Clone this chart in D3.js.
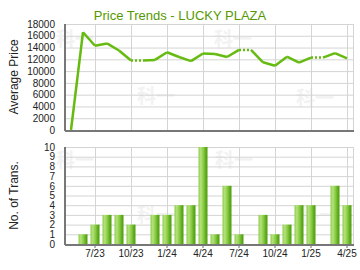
<!DOCTYPE html>
<html>
<head>
<meta charset="utf-8">
<script src="https://cdn.jsdelivr.net/npm/d3@7"></script>
<style>
  body { margin: 0; background: #fff; }
  svg { display: block; font-family: "Liberation Sans", Arial, sans-serif; }
  .tick text { fill: #222; font-size: 10px; }
</style>
</head>
<body>
<div id="vis"></div>
<script>
// Data
const MONTHS = ["5/23","6/23","7/23","8/23","9/23","10/23","11/23","12/23",
                "1/24","2/24","3/24","4/24","5/24","6/24","7/24","8/24",
                "9/24","10/24","11/24","12/24","1/25","2/25","3/25","4/25"];
const AVG_PRICE = [0,16600,14300,14700,13500,11800,null,11900,
                   13200,12400,11700,13000,12900,12400,13600,null,
                   11500,10900,12450,11450,12300,null,13050,12150];
const TRANS = [0,1,2,3,3,2,0,3,3,4,4,10,1,6,1,0,3,1,2,4,4,0,6,4];
const X_LABELS = ["7/23","10/23","1/24","4/24","7/24","10/24","1/25","4/25"];
const PRICE_TICKS = [0,2000,4000,6000,8000,10000,12000,14000,16000,18000];
const TRANS_TICKS = [0,1,2,3,4,5,6,7,8,9,10];

const WIDTH = 360, HEIGHT = 270;
const LEFT = 65, RIGHT = 353;
const TOP1 = 24, BOT1 = 130;
const TOP2 = 147, BOT2 = 244;
const GREEN = "#66bb11";

const SVG = d3.select("#vis").append("svg")
              .attr("width", WIDTH).attr("height", HEIGHT);

// gradient for the bars
const grad = SVG.append("defs").append("linearGradient")
                .attr("id", "barGrad").attr("x1", "0").attr("x2", "1")
                .attr("y1", "0").attr("y2", "0");
[["0%", "#8ccc4c"], ["25%", "#b4e27c"], ["55%", "#88cc44"], ["80%", "#5fae1c"], ["100%", "#4e9a10"]]
  .forEach(s => grad.append("stop").attr("offset", s[0]).attr("stop-color", s[1]));

// watermarks
[[56, 46], [137, 103], [214, 46], [296, 105], [56, 167], [137, 222], [215, 167], [300, 222]]
  .forEach(p => SVG.append("text").attr("x", p[0]).attr("y", p[1])
    .attr("font-size", 19).attr("font-weight", "bold").attr("fill", "#f2f2f2")
    .attr("font-family", "Noto Sans CJK SC").text("科一"));

// scales
const X_SCALE = d3.scaleBand().domain(MONTHS).range([LEFT, RIGHT]);
const xc = (m) => X_SCALE(m) + X_SCALE.bandwidth() / 2;
const Y1 = d3.scaleLinear().domain([0, 18000]).range([BOT1, TOP1]);
const Y2 = d3.scaleLinear().domain([0, 10]).range([BOT2, TOP2]);

// grids
function grid(yScale, ticks, top, bot) {
  SVG.append("g").selectAll("line").data(ticks).enter().append("line")
     .attr("x1", LEFT).attr("x2", RIGHT)
     .attr("y1", d => yScale(d) + 0.5).attr("y2", d => yScale(d) + 0.5)
     .attr("stroke", "#d4d4d4");
  SVG.append("g").selectAll("line").data(X_LABELS).enter().append("line")
     .attr("x1", d => Math.round(xc(d)) + 0.5).attr("x2", d => Math.round(xc(d)) + 0.5)
     .attr("y1", top).attr("y2", bot)
     .attr("stroke", "#d4d4d4");
  SVG.append("line").attr("x1", RIGHT + 0.5).attr("x2", RIGHT + 0.5)
     .attr("y1", top).attr("y2", bot).attr("stroke", "#d4d4d4");
}
grid(Y1, PRICE_TICKS, TOP1, BOT1);
grid(Y2, TRANS_TICKS, TOP2, BOT2);

// bars
SVG.append("g").selectAll("rect").data(MONTHS.map((m, i) => ({m: m, v: TRANS[i]})).filter(d => d.v > 0))
   .enter().append("rect")
   .attr("x", d => xc(d.m) - 4.5)
   .attr("width", 9)
   .attr("y", d => Y2(d.v))
   .attr("height", d => BOT2 - Y2(d.v))
   .attr("fill", "url(#barGrad)");

// price line, segments into a month without sales are dotted
const shown = [];
AVG_PRICE.forEach((v, i) => { shown.push(v === null ? shown[i - 1] : v); });
const line = d3.line().x(d => xc(d.m)).y(d => Y1(d.v));
for (let i = 0; i < MONTHS.length - 1; i++) {
  const seg = [{m: MONTHS[i], v: shown[i]}, {m: MONTHS[i + 1], v: shown[i + 1]}];
  SVG.append("path").attr("d", line(seg))
     .attr("fill", "none").attr("stroke", GREEN)
     .attr("stroke-width", 2.5).attr("stroke-linejoin", "round")
     .attr("stroke-dasharray", AVG_PRICE[i + 1] === null ? "2,2" : null);
}

// axes
const yAxis1 = SVG.append("g").attr("transform", "translate(" + LEFT + ",0)")
                  .call(d3.axisLeft(Y1).tickValues(PRICE_TICKS).tickSize(0).tickPadding(10).tickFormat(d3.format("d")));
const yAxis2 = SVG.append("g").attr("transform", "translate(" + LEFT + ",0)")
                  .call(d3.axisLeft(Y2).tickValues(TRANS_TICKS).tickSize(0).tickPadding(10));
const xAxis = SVG.append("g").attr("transform", "translate(0," + BOT2 + ")")
                 .call(d3.axisBottom(X_SCALE).tickValues(X_LABELS).tickSize(4).tickSizeOuter(0).tickPadding(2));
[yAxis1, yAxis2, xAxis].forEach(a => {
  a.select(".domain").remove();
  a.selectAll(".tick line").attr("stroke", "#666");
  a.selectAll("text").attr("font-family", null).attr("font-size", null);
});

// axis lines
SVG.append("line").attr("x1", LEFT).attr("x2", LEFT).attr("y1", TOP1).attr("y2", BOT1 + 1)
   .attr("stroke", "#777").attr("stroke-width", 2);
SVG.append("line").attr("x1", LEFT).attr("x2", RIGHT + 1).attr("y1", BOT1 + 1).attr("y2", BOT1 + 1)
   .attr("stroke", "#777").attr("stroke-width", 2);
SVG.append("line").attr("x1", LEFT).attr("x2", LEFT).attr("y1", TOP2).attr("y2", BOT2 + 1)
   .attr("stroke", "#777").attr("stroke-width", 2);
SVG.append("line").attr("x1", LEFT).attr("x2", RIGHT + 1).attr("y1", BOT2 + 1).attr("y2", BOT2 + 1)
   .attr("stroke", "#777").attr("stroke-width", 2);

// title and axis titles
SVG.append("text").attr("x", 180).attr("y", 20).attr("text-anchor", "middle")
   .attr("font-size", 13).attr("fill", "#559900").text("Price Trends - LUCKY PLAZA");
SVG.append("text").attr("transform", "translate(18," + ((TOP1 + BOT1) / 2) + ") rotate(-90)")
   .attr("text-anchor", "middle").attr("font-size", 12).attr("fill", "#222").text("Average Price");
SVG.append("text").attr("transform", "translate(18," + ((TOP2 + BOT2) / 2) + ") rotate(-90)")
   .attr("text-anchor", "middle").attr("font-size", 12).attr("fill", "#222").text("No. of Trans.");
</script>
</body>
</html>
